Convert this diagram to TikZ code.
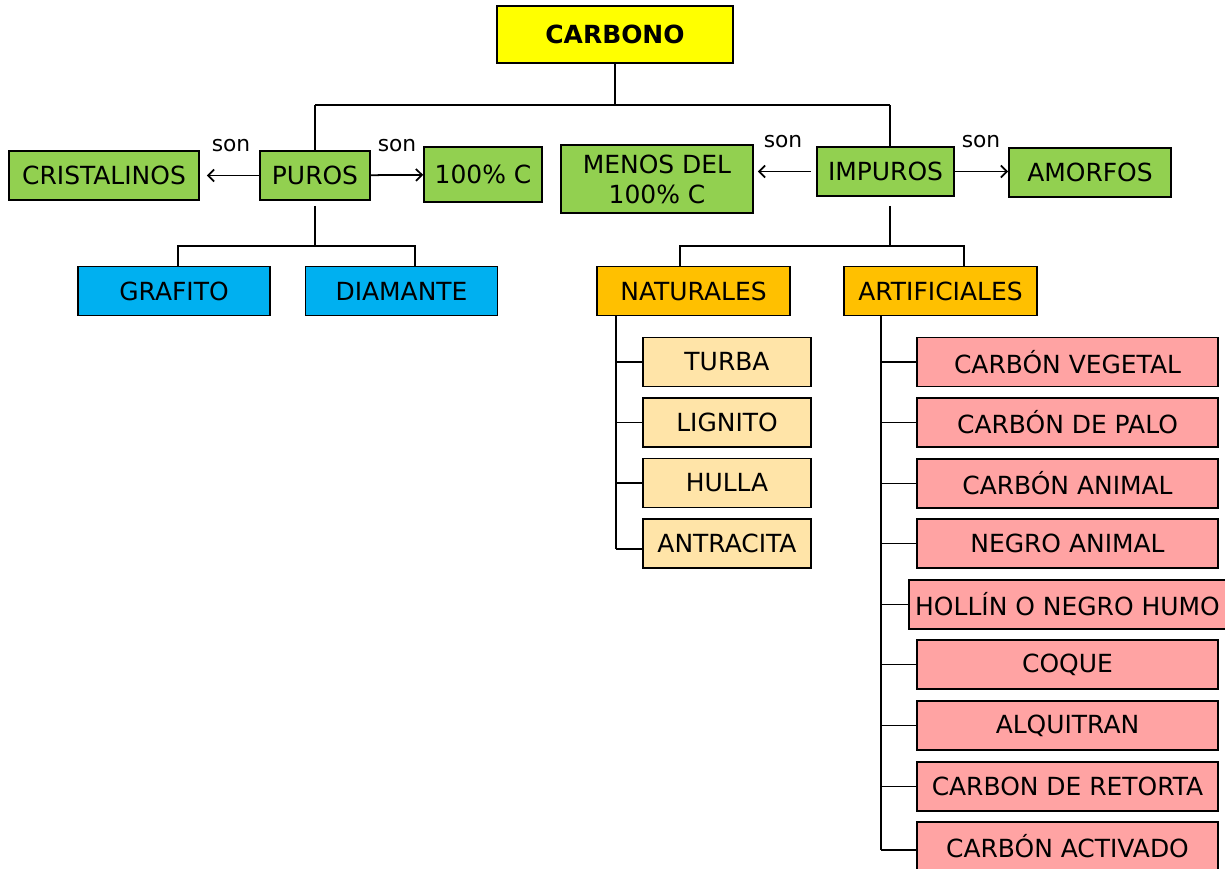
\documentclass[tikz,border=0pt]{standalone}
\usepackage{fontspec}
\setmainfont{DejaVu Sans}
\usetikzlibrary{arrows.meta}

\definecolor{verde}{HTML}{92D050}
\definecolor{azul}{HTML}{00B0F0}
\definecolor{naranja}{HTML}{FFC000}
\definecolor{crema}{HTML}{FFE4A8}
\definecolor{rosa}{HTML}{FFA3A3}
\definecolor{amarillo}{HTML}{FFFF00}

\begin{document}
\begin{tikzpicture}[x=0.02cm, y=-0.02cm,
        box/.style={rectangle, draw=black, line width=1pt, inner sep=0pt, minimum height=9.8mm, align=center, font=\fontsize{14.2}{17}\selectfont},
        title/.style={box, fill=amarillo, minimum width=47.2mm, minimum height=11.4mm, font=\fontsize{14.2}{17}\selectfont\bfseries},
        grnbox/.style={box, fill=verde},
        blubox/.style={box, fill=azul, minimum width=38.4mm},
        orgbox/.style={box, fill=naranja, minimum width=38.6mm},
        crmbox/.style={box, fill=crema, minimum width=33.6mm},
        pnkbox/.style={box, fill=rosa, minimum width=60.2mm},
        lbl/.style={font=\fontsize{12.4}{14}\selectfont, inner sep=0pt},
        line/.style={line width=1pt, draw=black},
        arrow/.style={line, -{Straight Barb[length=1.2mm, width=2.4mm]}}
    ]
        \useasboundingbox (0,0) rectangle (1225,869);

        \node[title] (carbono) at (615,34.5) {CARBONO};

        % puros
        \node[grnbox, minimum width=22mm] (puros) at (315,175.5) {PUROS};
        \node[grnbox, minimum width=38mm] (cristalinos) at (104,175.5) {CRISTALINOS};
        \node[grnbox, minimum width=23.6mm, minimum height=11mm] (cien) at (483,174.5) {100\% C};
        \node[blubox] (grafito) at (174,291) {GRAFITO};
        \node[blubox] (diamante) at (401.5,291) {DIAMANTE};
        \node[lbl] (sonpl) at (231,146) {son};
        \node[lbl] (sonpr) at (397,146) {son};

        % impuros
        \node[grnbox, minimum width=27.4mm] (impuros) at (885.5,171.5) {IMPUROS};
        \node[grnbox, minimum width=38.4mm, minimum height=13.6mm] (menos) at (657,179) {MENOS DEL\\100\% C};
        \node[grnbox, minimum width=32.4mm] (amorfos) at (1090,172.5) {AMORFOS};
        \node[orgbox] (naturales) at (693.5,291) {NATURALES};
        \node[orgbox] (artificiales) at (940.5,291) {ARTIFICIALES};
        \node[lbl] (sonil) at (783,142) {son};
        \node[lbl] (sonir) at (981,142) {son};

        \node[crmbox] (turba) at (727,362) {TURBA};
        \node[crmbox] (lignito) at (727,422.5) {LIGNITO};
        \node[crmbox] (hulla) at (727,483) {HULLA};
        \node[crmbox] (antracita) at (727,543.5) {ANTRACITA};

        \node[pnkbox] (vegetal) at (1067.5,362) {CARBÓN VEGETAL};
        \node[pnkbox] (palo) at (1067.5,422.5) {CARBÓN DE PALO};
        \node[pnkbox] (animal) at (1067.5,483.5) {CARBÓN ANIMAL};
        \node[pnkbox] (negro) at (1067.5,543.5) {NEGRO ANIMAL};
        \node[pnkbox, minimum width=63.4mm] (hollin) at (1067.5,604.5) {HOLLÍN O NEGRO HUMO};
        \node[pnkbox] (coque) at (1067.5,664.5) {COQUE};
        \node[pnkbox] (alquitran) at (1067.5,725.5) {ALQUITRAN};
        \node[pnkbox] (retorta) at (1067.5,786.5) {CARBON DE RETORTA};
        \node[pnkbox] (activado) at (1067.5,846.5) {CARBÓN ACTIVADO};

        % junctions
        \coordinate (jl) at (315,105);
        \coordinate (jr) at (890,105);
        \coordinate (pl) at (178,246);
        \coordinate (pc) at (315,246);
        \coordinate (pr) at (415,246);
        \coordinate (il) at (680,246);
        \coordinate (ic) at (890,246);
        \coordinate (ir) at (964,246);
        \coordinate (ns) at (616,549);
        \coordinate (as) at (881,850);

        \draw[line] (carbono) -- (carbono |- jl);
        \draw[line] (jl) -- (jr);
        \draw[line] (jl) -- (puros);
        \draw[line] (jr) -- (jr |- impuros.north);

        \draw[arrow, shorten >=1.4mm] (puros) -- (cristalinos);
        \draw[arrow] (puros) -- (cien);
        \draw[arrow, shorten <=1mm, shorten >=0.8mm] (impuros.west) -- (impuros.west -| menos.east);
        \draw[arrow] (impuros.east) -- (impuros.east -| amorfos.west);

        \draw[line, shorten <=1mm] (puros) -- (pc);
        \draw[line] (pl |- grafito.north) -- (pl) -- (pr) -- (pr |- diamante.north);
        \draw[line, shorten <=1.8mm] (impuros.south -| ic) -- (ic);
        \draw[line] (il |- naturales.north) -- (il) -- (ir) -- (ir |- artificiales.north);

        \draw[line] (naturales.south -| ns) -- (ns);
        \draw[line] (turba.west) -- (turba.west -| ns);
        \draw[line] (lignito.west) -- (lignito.west -| ns);
        \draw[line] (hulla.west) -- (hulla.west -| ns);
        \draw[line] (ns) -- (ns -| antracita.west);

        \draw[line] (artificiales.south -| as) -- (as);
        \draw[line] (vegetal.west) -- (vegetal.west -| as);
        \draw[line] (palo.west) -- (palo.west -| as);
        \draw[line] (animal.west) -- (animal.west -| as);
        \draw[line] (negro.west) -- (negro.west -| as);
        \draw[line] (hollin.west) -- (hollin.west -| as);
        \draw[line] (coque.west) -- (coque.west -| as);
        \draw[line] (alquitran.west) -- (alquitran.west -| as);
        \draw[line] (retorta.west) -- (retorta.west -| as);
        \draw[line] (as) -- (as -| activado.west);
    \end{tikzpicture}
\end{document}
